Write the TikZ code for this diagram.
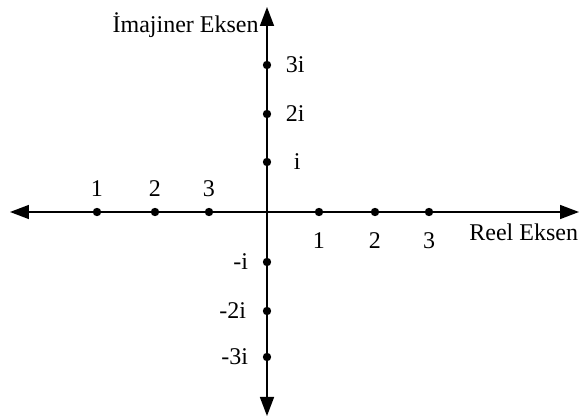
\documentclass[tikz,border=0pt]{standalone}
\usepackage{fontspec}
\setmainfont{Liberation Serif}
\usetikzlibrary{positioning,arrows.meta}

\begin{document}
\begin{tikzpicture}[
  x=0.5pt, y=0.5pt,
  every node/.style={font=\fontsize{12}{14}\selectfont, inner sep=1pt},
  dot/.style={circle, fill=black, inner sep=0pt, minimum size=4.2pt},
  axis/.style={{Triangle[length=9.5pt,width=7pt]}-{Triangle[length=9.5pt,width=7pt]}, line width=0.75pt},
]
\useasboundingbox (-267,-205) rectangle (312,212);

% axis ends
\coordinate (west)  at (-257,0);
\coordinate (east)  at (312,0);
\coordinate (north) at (0,205);
\coordinate (south) at (0,-204);

\draw[axis] (west) -- (east);
\draw[axis] (south) -- (north);

% real axis
\node[dot] at (-170,0) (rm1) {};
\node[dot] at (-112,0) (rm2) {};
\node[dot] at ( -58,0) (rm3) {};
\node[dot] at (  52,0) (rp1) {};
\node[dot] at ( 108,0) (rp2) {};
\node[dot] at ( 162,0) (rp3) {};

\node[above=4pt of rm1] {1};
\node[above=4pt of rm2] {2};
\node[above=4pt of rm3] {3};
\node[below=7pt of rp1] {1};
\node[below=7pt of rp2] {2};
\node[below=7pt of rp3] {3};

% imaginary axis
\node[dot] at (0, 147) (ip3) {};
\node[dot] at (0,  98) (ip2) {};
\node[dot] at (0,  50) (ip1) {};
\node[dot] at (0, -50) (im1) {};
\node[dot] at (0, -99) (im2) {};
\node[dot] at (0,-145) (im3) {};

\node[right=6pt of ip3] {3i};
\node[right=6pt of ip2] {2i};
\node[right=10pt of ip1] {i};
\node[left=6pt of im1] {-i};
\node[left=7pt of im2] {-2i};
\node[left=6pt of im3] {-3i};

% axis names
\node[anchor=east] at (-6,187) (imname) {İmajiner Eksen};
\node[anchor=west] at (200,-20) (rename) {Reel Eksen};
\end{tikzpicture}
\end{document}
